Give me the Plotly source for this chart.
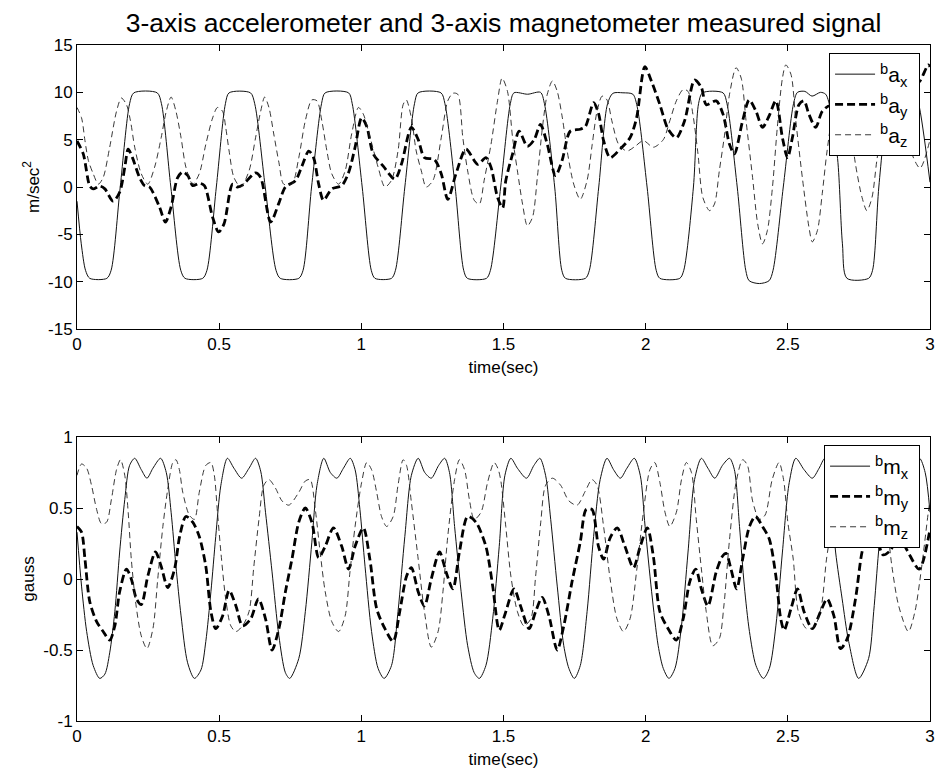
import plotly.graph_objects as go

# ---------------- data: accelerometer (top) ----------------
t_ax = [0.000,0.015,0.030,0.045,0.105,0.120,0.152,0.185,0.200,0.282,0.297,0.330,0.365,0.380,0.442,0.457,0.490,0.522,0.535,0.610,0.625,0.662,0.700,0.715,0.780,0.795,0.825,0.860,0.873,0.955,0.968,1.003,1.035,1.048,1.106,1.120,1.153,1.187,1.200,1.280,1.294,1.330,1.360,1.373,1.440,1.454,1.490,1.524,1.537,1.585,1.630,1.644,1.680,1.705,1.718,1.788,1.802,1.835,1.866,1.885,1.920,1.955,1.970,2.005,2.037,2.050,2.120,2.134,2.168,2.186,2.200,2.272,2.286,2.322,2.352,2.364,2.400,2.434,2.448,2.484,2.520,2.534,2.560,2.585,2.615,2.633,2.648,2.675,2.692,2.708,2.784,2.798,2.820,2.852,2.866,2.945,2.960,3.000]
ax = [-1.5,-6.0,-8.8,-9.65,-9.65,-8.8,0.0,8.8,9.95,9.95,8.8,0.0,-8.8,-9.65,-9.65,-8.8,0.0,8.8,9.95,9.95,8.8,0.0,-8.8,-9.65,-9.65,-8.8,0.0,8.8,9.95,9.95,8.8,0.0,-8.8,-9.65,-9.65,-8.8,0.0,8.8,9.95,9.95,8.8,0.0,-8.8,-9.65,-9.65,-8.8,0.0,8.8,9.95,9.8,10.0,8.8,0.0,-8.8,-9.65,-9.65,-8.8,0.0,8.8,9.9,9.95,9.8,8.5,0.0,-8.8,-9.65,-9.65,-8.8,0.0,8.8,9.95,9.95,8.8,0.0,-8.8,-9.9,-10.2,-9.9,-8.8,0.0,8.8,10.0,10.1,9.6,10.0,9.8,8.5,3.0,-6.0,-9.65,-9.65,-8.8,0.0,8.8,9.95,9.95,8.8,0.5]

t_ay = [0.000,0.022,0.045,0.057,0.080,0.098,0.127,0.150,0.168,0.180,0.195,0.220,0.238,0.255,0.290,0.311,0.331,0.354,0.372,0.390,0.407,0.430,0.448,0.477,0.498,0.517,0.547,0.564,0.582,0.628,0.646,0.681,0.710,0.733,0.768,0.791,0.815,0.832,0.850,0.867,0.896,0.931,0.955,0.978,1.001,1.019,1.042,1.077,1.118,1.141,1.176,1.200,1.222,1.257,1.281,1.304,1.333,1.368,1.409,1.438,1.456,1.479,1.497,1.508,1.532,1.555,1.584,1.608,1.630,1.654,1.683,1.706,1.735,1.770,1.788,1.817,1.834,1.852,1.875,1.910,1.945,1.968,1.997,2.020,2.050,2.079,2.108,2.137,2.172,2.196,2.213,2.248,2.272,2.295,2.312,2.341,2.364,2.388,2.411,2.434,2.458,2.481,2.499,2.516,2.539,2.557,2.574,2.598,2.621,2.650,2.700,2.750,2.800,2.850,2.900,2.940,2.965,2.994,3.000]
ay = [4.86,3.5,0.1,-0.2,0.1,-0.2,-1.5,-0.56,2.06,4.0,3.1,1.0,0.14,0.0,-2.1,-3.7,-2.1,1.0,1.6,1.2,0.14,0.4,0.14,-3.2,-4.75,-3.9,0.3,0.0,0.2,1.5,1.0,-3.7,-1.7,0.0,0.66,2.2,3.8,3.1,0.3,-1.4,-0.2,0.14,1.5,4.2,7.3,6.4,3.5,2.2,0.84,2.4,6.3,5.0,3.1,2.9,1.4,-1.3,1.4,4.0,2.4,3.1,2.1,-1.1,-2.2,0.66,3.5,5.9,4.3,5.0,6.6,4.5,1.2,2.8,5.9,6.1,6.4,8.9,7.8,4.9,3.1,4.0,5.2,7.3,12.7,11.2,8.7,6.1,5.2,7.0,11.3,10.5,8.7,9.1,7.7,4.5,3.5,7.0,9.2,8.0,6.3,7.5,9.1,5.2,3.1,5.2,8.7,9.1,7.7,6.3,8.0,8.6,7.0,9.0,8.0,10.0,9.0,10.5,11.2,12.9,12.7]

t_az = [0.000,0.016,0.028,0.040,0.057,0.075,0.092,0.115,0.139,0.156,0.174,0.188,0.203,0.226,0.249,0.273,0.296,0.314,0.331,0.348,0.366,0.383,0.407,0.430,0.453,0.477,0.494,0.512,0.523,0.535,0.552,0.576,0.605,0.628,0.646,0.660,0.675,0.692,0.710,0.727,0.756,0.780,0.803,0.826,0.844,0.861,0.879,0.896,0.920,0.943,0.966,0.990,1.007,1.025,1.059,1.083,1.106,1.129,1.147,1.158,1.176,1.193,1.211,1.228,1.252,1.281,1.304,1.322,1.339,1.357,1.374,1.397,1.415,1.432,1.456,1.479,1.495,1.514,1.532,1.549,1.567,1.584,1.602,1.619,1.637,1.654,1.672,1.689,1.707,1.724,1.747,1.770,1.794,1.812,1.829,1.847,1.864,1.881,1.905,1.934,1.963,1.992,2.027,2.062,2.085,2.108,2.132,2.149,2.166,2.184,2.201,2.225,2.242,2.259,2.277,2.295,2.318,2.336,2.353,2.376,2.394,2.411,2.428,2.446,2.463,2.481,2.493,2.511,2.528,2.551,2.574,2.586,2.604,2.621,2.638,2.665,2.690,2.715,2.738,2.761,2.778,2.796,2.813,2.840,2.870,2.900,2.930,2.965,3.000]
az = [8.4,7.3,4.9,2.8,1.4,0.3,1.0,4.2,8.0,9.4,8.7,7.0,4.2,1.4,0.3,2.1,5.2,8.0,9.5,8.0,5.2,2.1,0.3,1.4,4.5,7.3,8.4,8.0,6.3,3.8,1.0,0.0,1.7,5.2,8.0,9.5,8.4,5.6,2.6,0.3,0.3,3.1,7.0,9.2,9.1,7.0,3.8,1.4,0.3,1.7,5.6,8.4,7.7,5.9,2.1,0.0,0.7,3.8,8.7,9.2,7.3,3.8,1.7,0.0,0.7,5.2,9.1,9.9,9.8,5.2,1.7,-1.4,-1.8,0.7,4.5,9.1,11.5,10.1,5.2,1.7,-1.8,-4.1,-3.2,1.0,6.3,9.8,11.2,10.1,7.3,3.8,0.3,-1.3,0.7,4.5,8.0,9.6,9.2,7.0,4.5,3.8,4.3,4.9,4.2,5.0,7.0,9.1,10.3,10.1,7.7,3.5,-1.1,-2.5,-1.8,1.7,5.4,9.8,12.6,11.5,7.0,1.0,-3.9,-6.0,-4.6,0.0,6.3,11.5,12.9,11.9,7.0,1.0,-4.2,-5.8,-4.6,-0.7,3.8,9.0,11.0,7.5,2.4,-1.1,-2.5,-1.1,2.8,8.0,11.0,9.0,4.0,2.0,5.0]

# ---------------- data: magnetometer (bottom) ----------------
t_mx = [0.000,0.016,0.034,0.057,0.080,0.098,0.115,0.133,0.150,0.168,0.185,0.203,0.226,0.246,0.267,0.294,0.314,0.331,0.348,0.366,0.389,0.413,0.436,0.453,0.471,0.488,0.506,0.529,0.552,0.579,0.605,0.628,0.646,0.663,0.686,0.710,0.733,0.748,0.780,0.803,0.826,0.844,0.868,0.891,0.914,0.937,0.961,0.978,0.995,1.013,1.036,1.059,1.080,1.106,1.129,1.153,1.176,1.200,1.223,1.246,1.272,1.293,1.310,1.328,1.351,1.374,1.397,1.415,1.438,1.462,1.485,1.505,1.526,1.549,1.581,1.607,1.628,1.648,1.666,1.689,1.712,1.730,1.749,1.770,1.794,1.817,1.840,1.864,1.887,1.911,1.934,1.960,1.981,1.998,2.021,2.044,2.062,2.082,2.103,2.126,2.149,2.172,2.196,2.219,2.243,2.270,2.295,2.312,2.330,2.347,2.365,2.388,2.414,2.435,2.458,2.481,2.505,2.528,2.557,2.586,2.610,2.630,2.650,2.668,2.691,2.714,2.749,2.784,2.802,2.819,2.837,2.854,2.872,2.895,2.915,2.936,2.963,2.983,3.000]
mx = [0.33,-0.05,-0.37,-0.61,-0.70,-0.67,-0.52,-0.23,0.19,0.56,0.80,0.85,0.77,0.71,0.78,0.85,0.75,0.47,0.09,-0.26,-0.59,-0.70,-0.64,-0.44,-0.09,0.30,0.66,0.85,0.78,0.71,0.78,0.85,0.76,0.47,0.05,-0.40,-0.66,-0.70,-0.56,-0.23,0.26,0.66,0.85,0.75,0.71,0.78,0.85,0.77,0.49,0.09,-0.37,-0.63,-0.70,-0.61,-0.23,0.30,0.73,0.85,0.75,0.71,0.80,0.85,0.75,0.37,-0.09,-0.47,-0.66,-0.70,-0.61,-0.28,0.23,0.73,0.85,0.78,0.71,0.80,0.85,0.73,0.42,-0.05,-0.47,-0.63,-0.70,-0.61,-0.23,0.30,0.70,0.85,0.77,0.71,0.78,0.85,0.73,0.37,-0.09,-0.47,-0.63,-0.70,-0.63,-0.33,0.19,0.70,0.85,0.78,0.71,0.80,0.85,0.77,0.37,-0.05,-0.37,-0.61,-0.70,-0.63,-0.33,0.19,0.68,0.85,0.77,0.71,0.78,0.85,0.60,0.19,-0.14,-0.44,-0.70,-0.56,-0.23,0.19,0.56,0.80,0.85,0.77,0.71,0.78,0.85,0.75,0.47]

t_my = [0.000,0.016,0.028,0.045,0.069,0.092,0.115,0.133,0.150,0.174,0.191,0.209,0.226,0.249,0.276,0.296,0.319,0.343,0.361,0.383,0.407,0.430,0.453,0.471,0.488,0.512,0.535,0.559,0.582,0.611,0.638,0.663,0.686,0.710,0.733,0.756,0.780,0.803,0.826,0.850,0.873,0.902,0.931,0.955,0.978,1.007,1.030,1.054,1.083,1.112,1.135,1.159,1.176,1.200,1.222,1.246,1.275,1.298,1.322,1.345,1.374,1.403,1.438,1.462,1.485,1.505,1.537,1.560,1.590,1.613,1.636,1.660,1.689,1.712,1.741,1.770,1.791,1.811,1.834,1.852,1.875,1.900,1.927,1.957,1.981,2.006,2.027,2.050,2.079,2.108,2.132,2.155,2.176,2.196,2.219,2.248,2.270,2.283,2.300,2.320,2.341,2.365,2.386,2.411,2.435,2.458,2.475,2.487,2.511,2.534,2.557,2.586,2.615,2.638,2.662,2.685,2.709,2.738,2.761,2.785,2.810,2.835,2.860,2.890,2.920,2.962,3.000]
my = [0.37,0.33,0.14,-0.16,-0.30,-0.37,-0.43,-0.33,-0.09,0.07,0.0,-0.14,-0.18,0.02,0.19,0.09,-0.06,0.07,0.30,0.44,0.40,0.30,0.09,-0.23,-0.35,-0.26,-0.08,-0.19,-0.33,-0.28,-0.14,-0.28,-0.50,-0.35,-0.09,0.14,0.40,0.50,0.40,0.15,0.23,0.36,0.23,0.07,0.23,0.36,0.14,-0.21,-0.35,-0.44,-0.23,0.02,0.08,-0.09,-0.19,0.0,0.19,0.05,-0.07,0.19,0.44,0.40,0.23,-0.05,-0.36,-0.25,-0.07,-0.19,-0.35,-0.23,-0.13,-0.26,-0.50,-0.33,-0.02,0.26,0.49,0.49,0.23,0.14,0.29,0.36,0.23,0.08,0.23,0.36,0.16,-0.23,-0.35,-0.43,-0.28,-0.02,0.07,-0.07,-0.19,0.05,0.16,0.18,0.07,-0.07,0.14,0.37,0.44,0.37,0.28,0.02,-0.28,-0.36,-0.21,-0.07,-0.23,-0.35,-0.23,-0.14,-0.26,-0.49,-0.42,-0.14,0.19,0.35,0.30,0.17,0.20,0.30,0.20,0.07,0.35]

t_mz = [0.000,0.016,0.034,0.051,0.069,0.086,0.104,0.121,0.139,0.153,0.168,0.180,0.191,0.206,0.226,0.246,0.267,0.284,0.302,0.319,0.337,0.348,0.360,0.372,0.395,0.413,0.430,0.453,0.471,0.483,0.494,0.506,0.523,0.541,0.559,0.582,0.605,0.622,0.640,0.657,0.675,0.698,0.721,0.745,0.780,0.803,0.820,0.838,0.855,0.873,0.896,0.920,0.943,0.960,0.978,1.001,1.019,1.036,1.054,1.071,1.089,1.112,1.129,1.147,1.159,1.176,1.200,1.222,1.246,1.270,1.287,1.304,1.328,1.345,1.363,1.380,1.397,1.421,1.444,1.467,1.480,1.490,1.508,1.526,1.549,1.572,1.596,1.613,1.631,1.648,1.672,1.701,1.730,1.759,1.788,1.811,1.829,1.852,1.875,1.899,1.922,1.945,1.969,1.992,2.015,2.032,2.050,2.068,2.085,2.108,2.126,2.143,2.161,2.178,2.196,2.213,2.236,2.259,2.275,2.295,2.318,2.341,2.358,2.376,2.400,2.420,2.445,2.469,2.485,2.500,2.519,2.537,2.566,2.595,2.618,2.636,2.654,2.690,2.720,2.750,2.780,2.815,2.845,2.866,2.890,2.924,2.947,2.971,2.994,3.000]
mz = [0.73,0.81,0.78,0.66,0.49,0.39,0.40,0.56,0.77,0.84,0.73,0.47,0.14,-0.16,-0.40,-0.49,-0.35,0.0,0.37,0.63,0.82,0.84,0.77,0.61,0.45,0.42,0.61,0.80,0.82,0.73,0.47,0.19,-0.14,-0.33,-0.37,-0.33,-0.23,0.09,0.42,0.66,0.70,0.64,0.55,0.52,0.61,0.69,0.70,0.49,0.19,-0.09,-0.30,-0.37,-0.26,0.05,0.37,0.68,0.82,0.77,0.61,0.44,0.37,0.44,0.66,0.84,0.80,0.54,0.14,-0.23,-0.48,-0.37,-0.09,0.30,0.70,0.84,0.77,0.56,0.42,0.47,0.68,0.82,0.78,0.70,0.37,0.02,-0.23,-0.33,-0.28,0.02,0.40,0.66,0.71,0.66,0.55,0.52,0.62,0.70,0.66,0.37,0.0,-0.28,-0.37,-0.28,0.07,0.47,0.77,0.82,0.68,0.47,0.37,0.47,0.70,0.82,0.75,0.42,0.07,-0.23,-0.47,-0.42,-0.19,0.28,0.68,0.84,0.80,0.55,0.42,0.45,0.70,0.82,0.70,0.40,0.14,-0.23,-0.35,-0.33,-0.19,0.14,0.37,0.80,0.65,0.52,0.62,0.80,0.45,0.09,-0.19,-0.37,-0.23,0.09,0.47,0.55]

# ---------------- labels / ticks ----------------
title_text = "3-axis accelerometer and 3-axis magnetometer measured signal"
x_ticks = [0, 0.5, 1, 1.5, 2, 2.5, 3]
x_ticktext = ["0", "0.5", "1", "1.5", "2", "2.5", "3"]
acc_ticks = [-15, -10, -5, 0, 5, 10, 15]
acc_ticktext = ["-15", "-10", "-5", "0", "5", "10", "15"]
mag_ticks = [-1, -0.5, 0, 0.5, 1]
mag_ticktext = ["-1", "-0.5", "0", "0.5", "1"]
acc_names = ["<sup>b</sup>a<sub>x</sub> ", "<sup>b</sup>a<sub>y</sub> ", "<sup>b</sup>a<sub>z</sub> "]
mag_names = ["<sup>b</sup>m<sub>x</sub> ", "<sup>b</sup>m<sub>y</sub> ", "<sup>b</sup>m<sub>z</sub> "]

FONT = "Liberation Sans, Arial, sans-serif"
TICK_SIZE = 17
solid = dict(color="#111111", width=1)
thick = dict(color="#000000", width=2.8, dash="8px,4px")
thin = dict(color="#222222", width=0.9, dash="6px,4px")

fig = go.Figure()
for tt, yy, nm, ln in [(t_ax, ax, acc_names[0], solid), (t_ay, ay, acc_names[1], thick), (t_az, az, acc_names[2], thin)]:
    fig.add_trace(go.Scatter(x=tt, y=yy, name=nm, mode="lines", line=dict(shape="spline", smoothing=0.8, **ln),
                             xaxis="x", yaxis="y", legend="legend"))
for tt, yy, nm, ln in [(t_mx, mx, mag_names[0], solid), (t_my, my, mag_names[1], thick), (t_mz, mz, mag_names[2], thin)]:
    fig.add_trace(go.Scatter(x=tt, y=yy, name=nm, mode="lines", line=dict(shape="spline", smoothing=0.8, **ln),
                             xaxis="x2", yaxis="y2", legend="legend2"))

axis_common = dict(showline=True, linecolor="black", linewidth=1, mirror="allticks", ticks="inside",
                   ticklen=6, tickcolor="black", showgrid=False, zeroline=False, ticklabeloverflow="allow",
                   tickfont=dict(family=FONT, size=TICK_SIZE, color="black"))
lab_font = dict(family=FONT, size=TICK_SIZE, color="black")

# The page body keeps an 8 px margin, so the figure is drawn 8 px smaller and offset.
OFF = 8
W, HT = 946 - OFF, 776 - OFF
PL, PR = 77 - OFF, 935 - OFF      # plot block left/right (figure px)
PT, PB = 45 - OFF, 721 - OFF      # plot block top/bottom (figure px)
H = PB - PT
top_lo = (PB - (329 - OFF)) / H
bot_hi = (PB - (437 - OFF)) / H

fig.update_layout(
    width=W, height=HT,
    margin=dict(l=PL, r=W - PR, t=PT, b=HT - PB),
    paper_bgcolor="white", plot_bgcolor="white",
    title=dict(text=title_text, xref="paper", x=0.5, xanchor="center", y=1 - 15 / HT, yanchor="middle",
               font=dict(family=FONT, size=26.5, color="black")),
    showlegend=True,
    xaxis=dict(domain=[0, 1], anchor="y", range=[0, 3], tickvals=x_ticks, ticktext=x_ticktext,
               title=dict(text="time(sec)", standoff=7, font=lab_font), **axis_common),
    yaxis=dict(domain=[top_lo, 1], anchor="x", range=[-15, 15], tickvals=acc_ticks, ticktext=acc_ticktext,
               title=dict(text="m/sec<sup>2</sup>", standoff=4, font=lab_font), **axis_common),
    xaxis2=dict(domain=[0, 1], anchor="y2", range=[0, 3], tickvals=x_ticks, ticktext=x_ticktext,
                title=dict(text="time(sec)", standoff=7, font=lab_font), **axis_common),
    yaxis2=dict(domain=[0, bot_hi], anchor="x2", range=[-1, 1], tickvals=mag_ticks, ticktext=mag_ticktext,
                title=dict(text="gauss", standoff=4, font=lab_font), **axis_common),
    legend=dict(x=(925 - 77) / 858, y=(721 - 53) / 676, xanchor="right", yanchor="top", bgcolor="white",
                bordercolor="black", borderwidth=1, font=dict(family=FONT, size=21, color="black"),
                tracegroupgap=0, itemwidth=40),
    legend2=dict(x=(925 - 77) / 858, y=(721 - 445) / 676, xanchor="right", yanchor="top", bgcolor="white",
                 bordercolor="black", borderwidth=1, font=dict(family=FONT, size=21, color="black"),
                 tracegroupgap=0, itemwidth=40),
)

fig.write_html("out.html")
